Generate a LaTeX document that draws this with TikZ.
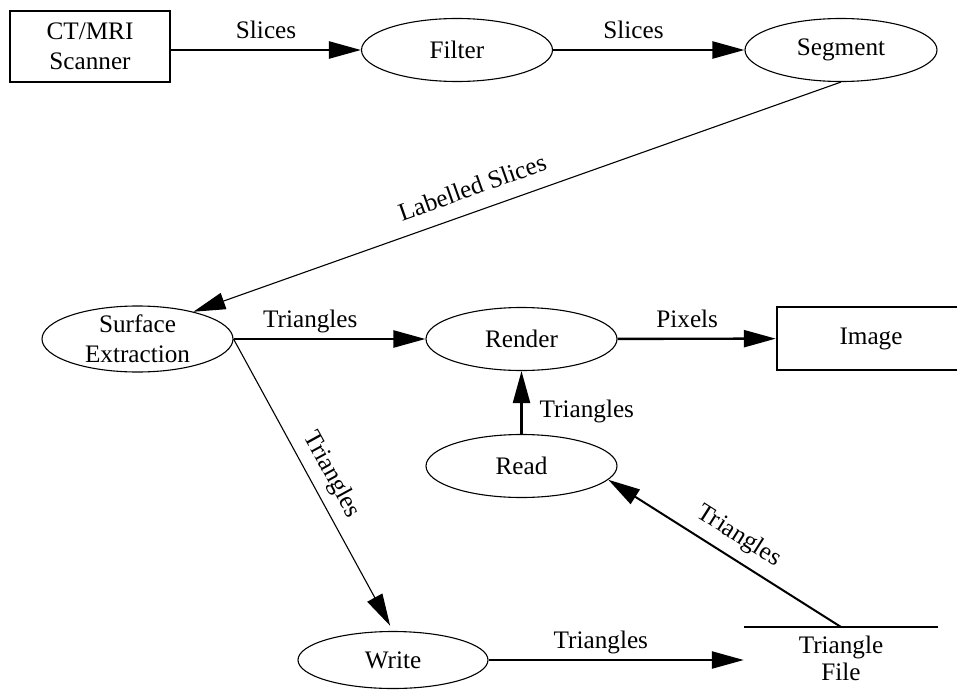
\documentclass[tikz,border=0pt]{standalone}
\usepackage{fontspec}
\setmainfont{Liberation Serif}
\usetikzlibrary{arrows.meta,shapes.geometric}

\begin{document}
\begin{tikzpicture}[x=1pt,y=1pt,
  every node/.style={font=\fontsize{25.2}{30}\selectfont},
  box/.style={draw, line width=2.4pt, rectangle, minimum width=160pt,
    minimum height=71pt, inner sep=0pt, align=center},
  proc/.style={draw, line width=1.1pt, ellipse, minimum width=191pt,
    minimum height=63pt, inner sep=0pt},
  head/.tip={Triangle[length=32pt,width=17pt]},
  flow/.style={line width=2.4pt, -{head}},
  thin flow/.style={line width=1.1pt, -{head}},
  back flow/.style={line width=2pt, {head}-},
  lab/.style={anchor=south, text depth=0pt, inner xsep=0pt, inner ysep=10pt},
]
\useasboundingbox (0,0) rectangle (957,-690);
\clip (0,0) rectangle (957,-690);

% processing stages
\node[box] (ct) at (90,-46.5) {CT/MRI\\Scanner};
\node[proc] (filter) at (457,-50) {Filter};
\node[proc, minimum width=192pt] (seg) at (841,-50) {Segment};
\node[proc, minimum height=66pt,
  label={[name=setext, align=center]center:Surface\\Extraction}] (se) at (137.5,-339) {};
\node[proc] (render) at (521.5,-339) {Render};
\node[box, minimum width=188pt, minimum height=63pt] (img) at (871,-338.5) {Image};
\node[proc] (read) at (521.5,-466) {Read};
\node[proc, minimum width=190pt, minimum height=57pt] (write) at (393,-660) {Write};

% data store: a bar over its name
\node[align=center, anchor=north, minimum width=194pt, inner xsep=0pt, inner ysep=9pt,
  font=\fontsize{25.2}{27}\selectfont] (tf) at (841,-627) {Triangle\\File};
\draw[line width=2.4pt] (tf.north west) -- (tf.north east);

% data flows
\draw[flow] (ct.east |- filter) -- (filter) node[lab, midway] (e1) {Slices};
\draw[flow] (filter) -- (seg) node[lab, pos=0.42] (e2) {Slices};
\draw[thin flow] (seg.south) -- (se.26)
  node[lab, sloped, pos=0.557, inner ysep=15pt] (e3) {Labelled Slices};
\draw[flow] (se) -- (render) node[lab, pos=0.4] (e4) {Triangles};
\draw[flow] (render) -- (img) node[lab, pos=0.44] (e5) {Pixels};
\draw[thin flow, shorten >=6pt] (se.east) -- (write.north)
  node[lab, sloped, pos=0.5, inner ysep=14pt] (e6) {Triangles};
\draw[flow] (read) -- (render)
  node[anchor=west, text depth=0pt, inner xsep=17pt, inner ysep=0pt, pos=0.4] (e7) {Triangles};
\draw[flow] (write.east) -- (tf.west |- write.east) node[lab, pos=0.44] (e8) {Triangles};
\draw[back flow] (read.-9) -- (tf.north)
  node[lab, sloped, pos=0.51, inner ysep=15pt] (e9) {Triangles};
\end{tikzpicture}
\end{document}
